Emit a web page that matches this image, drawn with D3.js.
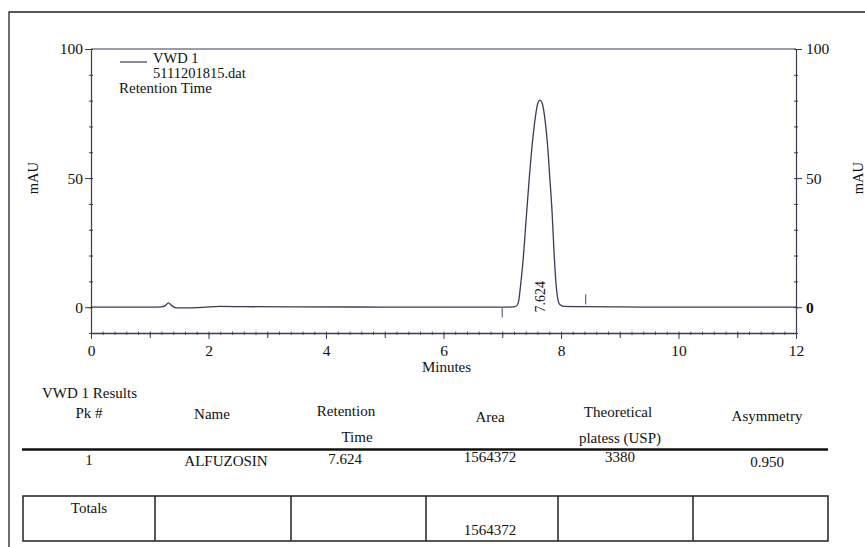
<!DOCTYPE html>
<html>
<head>
<meta charset="utf-8">
<script src="https://cdn.jsdelivr.net/npm/d3@7"></script>
<style>
  html, body { margin: 0; padding: 0; background: #fff; }
  svg { display: block; }
  text { font-family: "Liberation Serif", "Times New Roman", serif; fill: #111; }
</style>
</head>
<body>
<svg id="chart" width="865" height="547"></svg>
<script>
// ---- Data ----
const traceTime = [0, 0.5, 1.0, 1.2, 1.27, 1.32, 1.37, 1.45, 1.6, 1.9, 2.2, 2.6, 3.5, 5.0, 6.5, 7.0, 7.2, 7.25, 7.28, 7.31, 7.35, 7.41, 7.46, 7.51, 7.56, 7.60, 7.64, 7.68, 7.72, 7.77, 7.81, 7.85, 7.88, 7.91, 7.94, 7.98, 8.05, 8.4, 9.0, 10.0, 11.0, 12.0];
const traceMAU  = [0, 0, 0, 0.1, 0.7, 1.7, 0.7, -0.3, -0.3, -0.1, 0.3, 0.2, 0.1, 0.05, 0, 0, 0.1, 0.6, 2.5, 8, 17, 35, 50, 63, 73, 78.5, 80.2, 79, 74, 63, 50, 36, 22, 10.5, 4, 1, 0.3, 0.2, 0.1, 0, 0, 0];
const eventTimes = [7.0, 8.42];
const eventFrom  = [0, 1];
const eventTo    = [-4, 5];
const peakTimes  = [7.64];
const peakLabels = ["7.624"];
const xTickLabels = [0, 2, 4, 6, 8, 10, 12];
const yTickLabels = [0, 50, 100];
const legendLines = ["VWD 1", "5111201815.dat"];

const tableTitle = "VWD 1 Results";
const columns = ["Pk #", "Name", "Retention|Time", "Area", "Theoretical|platess (USP)", "Asymmetry"];
const rowValues = ["1", "ALFUZOSIN", "7.624", "1564372", "3380", "0.950"];
const totalsValues = ["Totals", "", "", "1564372", "", ""];

// ---- Layout ----
const svg = d3.select("#chart");
const ink = "#3b3a58";
const x = d3.scaleLinear().domain([0, 12]).range([91, 796]);
const y = d3.scaleLinear().domain([-10, 100]).range([333, 49]);

svg.append("rect").attr("width", 865).attr("height", 547).attr("fill", "#fff");
// outer frame (left + top)
svg.append("path").attr("d", "M9,547 L9,12 L865,12").attr("fill", "none").attr("stroke", "#222").attr("stroke-width", 1.3);

// top border of plot
svg.append("line").attr("x1", x(0)).attr("x2", x(12)).attr("y1", y(100)).attr("y2", y(100))
  .attr("stroke", ink).attr("stroke-width", 1.2);

// bottom axis: minor ticks
const gxMinor = svg.append("g").attr("transform", `translate(0,${y(-10)})`)
  .call(d3.axisBottom(x).tickValues(x.ticks(60)).tickSize(2).tickFormat("").tickSizeOuter(0));
gxMinor.selectAll("line").attr("stroke", ink).attr("stroke-opacity", 0.8).attr("y1", -1.5);
gxMinor.select(".domain").attr("stroke", ink).attr("stroke-width", 1.3);
// odd integer ticks
const gxMid = svg.append("g").attr("transform", `translate(0,${y(-10)})`)
  .call(d3.axisBottom(x).tickValues(x.ticks(12).filter(v => !xTickLabels.includes(v))).tickSize(5).tickFormat("").tickSizeOuter(0));
gxMid.select(".domain").remove();
gxMid.selectAll("line").attr("stroke", ink);
// labelled ticks
const gx = svg.append("g").attr("transform", `translate(0,${y(-10)})`)
  .call(d3.axisBottom(x).tickValues(xTickLabels).tickSize(6).tickPadding(6).tickFormat(d3.format("d")).tickSizeOuter(0));
gx.select(".domain").remove();
gx.selectAll("line").attr("stroke", ink);
gx.selectAll("text").attr("font-family", "Liberation Serif, serif").attr("font-size", 15.5).attr("fill", "#111");

svg.append("text").attr("x", (x(0) + x(12)) / 2 + 3).attr("y", 372).attr("text-anchor", "middle")
  .attr("font-size", 15).text("Minutes");

// left axis
const gyMinor = svg.append("g").attr("transform", `translate(${x(0)},0)`)
  .call(d3.axisLeft(y).tickValues(y.ticks(11)).tickSize(2).tickFormat("").tickSizeOuter(0));
gyMinor.selectAll("line").attr("stroke", ink).attr("x1", 2);
gyMinor.select(".domain").attr("stroke", ink).attr("stroke-width", 1.2);
const gy = svg.append("g").attr("transform", `translate(${x(0)},0)`)
  .call(d3.axisLeft(y).tickValues(yTickLabels).tickSize(6).tickPadding(2).tickFormat(d3.format("d")).tickSizeOuter(0));
gy.select(".domain").remove();
gy.selectAll("line").attr("stroke", ink);
gy.selectAll("text").attr("font-family", "Liberation Serif, serif").attr("font-size", 15.5).attr("fill", "#111");

// right axis
const gyrMinor = svg.append("g").attr("transform", `translate(${x(12)},0)`)
  .call(d3.axisRight(y).tickValues(y.ticks(11)).tickSize(2).tickFormat("").tickSizeOuter(0));
gyrMinor.selectAll("line").attr("stroke", ink).attr("x1", -2);
gyrMinor.select(".domain").attr("stroke", ink).attr("stroke-width", 1.2);
const gyr = svg.append("g").attr("transform", `translate(${x(12)},0)`)
  .call(d3.axisRight(y).tickValues(yTickLabels).tickSize(6).tickPadding(4).tickFormat(d3.format("d")).tickSizeOuter(0));
gyr.select(".domain").remove();
gyr.selectAll("line").attr("stroke", ink);
gyr.selectAll("text").attr("font-family", "Liberation Serif, serif").attr("font-size", 15.5).attr("fill", "#111")
  .attr("font-weight", d => d === 0 ? "bold" : "normal");

// y axis titles
svg.append("text").attr("transform", `translate(38,${y(50)}) rotate(-90)`).attr("text-anchor", "middle")
  .attr("font-size", 14.5).text("mAU");
svg.append("text").attr("transform", `translate(863,${y(50)}) rotate(-90)`).attr("text-anchor", "middle")
  .attr("font-size", 14.5).text("mAU");

// trace
const pts = traceTime.map((t, i) => [t, traceMAU[i]]);
const line = d3.line().x(d => x(d[0])).y(d => y(d[1])).curve(d3.curveMonotoneX);
svg.append("path").datum(pts).attr("d", line).attr("fill", "none")
  .attr("stroke", ink).attr("stroke-width", 1.3);

// integration event marks
svg.selectAll(".ev").data(eventTimes).enter().append("line")
  .attr("x1", d => x(d)).attr("x2", d => x(d))
  .attr("y1", (d, i) => y(eventFrom[i])).attr("y2", (d, i) => y(eventTo[i]))
  .attr("stroke", "#666").attr("stroke-width", 1.2);

// peak label
svg.selectAll(".pk").data(peakTimes).enter().append("text")
  .attr("transform", d => `translate(${x(d) + 5},${y(4)}) rotate(-90)`)
  .attr("text-anchor", "middle")
  .attr("font-family", "Liberation Sans, Arial, sans-serif")
  .attr("font-size", 14).attr("fill", "#222")
  .text((d, i) => peakLabels[i]);

// legend
svg.append("line").attr("x1", 120).attr("x2", 147).attr("y1", 62).attr("y2", 62).attr("stroke", ink).attr("stroke-width", 1.2);
svg.selectAll(".lg").data(legendLines).enter().append("text")
  .attr("x", 153).attr("y", (d, i) => 63 + i * 15).attr("font-size", 14.5).text(d => d);
svg.append("text").attr("x", 119).attr("y", 93).attr("font-size", 15).text("Retention Time");

// ---- Results table ----
svg.append("text").attr("x", 42).attr("y", 398).attr("font-size", 15).text(tableTitle);
const colCenters = [89, 212, 346, 490, 618, 767];
const headBase = [418, 419, 416, 422, 417, 421];
columns.forEach((c, i) => {
  const parts = c.split("|");
  parts.forEach((p, j) => {
    svg.append("text").attr("x", colCenters[i] + (j === 1 && i === 2 ? 11 : 0) + (j === 1 && i === 4 ? 2 : 0))
      .attr("y", headBase[i] + j * 26).attr("text-anchor", "middle").attr("font-size", 15).text(p);
  });
});
svg.append("line").attr("x1", 22).attr("x2", 828).attr("y1", 449.5).attr("y2", 449.5)
  .attr("stroke", "#111").attr("stroke-width", 2.4);

svg.append("clipPath").attr("id", "rowclip").append("rect").attr("x", 0).attr("y", 451).attr("width", 865).attr("height", 16);
const rowBase = [465, 466, 464, 462, 462, 467];
const rowCenters = [89, 226, 345, 490, 620, 767];
rowValues.forEach((v, i) => {
  svg.append("text").attr("x", rowCenters[i]).attr("y", rowBase[i]).attr("text-anchor", "middle")
    .attr("font-size", 15).attr("clip-path", i === 1 ? "url(#rowclip)" : null).text(v);
});

// totals box
const boxX = [23, 155, 291, 426, 558, 693, 828];
const boxTop = 496, boxBottom = 541;
svg.append("rect").attr("x", boxX[0]).attr("y", boxTop).attr("width", boxX[6] - boxX[0]).attr("height", boxBottom - boxTop)
  .attr("fill", "none").attr("stroke", "#222").attr("stroke-width", 1.5);
boxX.slice(1, 6).forEach(bx => {
  svg.append("line").attr("x1", bx).attr("x2", bx).attr("y1", boxTop).attr("y2", boxBottom)
    .attr("stroke", "#222").attr("stroke-width", 1.5);
});
const totalsBase = [513, 0, 0, 535, 0, 0];
totalsValues.forEach((v, i) => {
  if (!v) return;
  svg.append("text").attr("x", (boxX[i] + boxX[i + 1]) / 2 + (i === 0 ? 0 : -2)).attr("y", totalsBase[i])
    .attr("text-anchor", "middle").attr("font-size", 15).text(v);
});
</script>
</body>
</html>
